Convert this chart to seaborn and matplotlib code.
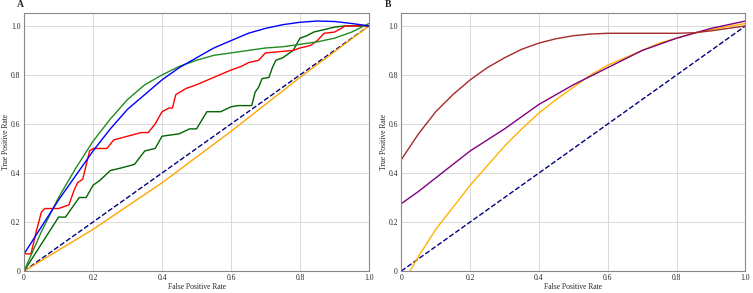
import matplotlib
matplotlib.use("Agg")
import matplotlib.pyplot as plt
import seaborn as sns
import numpy as np
import pandas as pd

# ---- panel A ----
blue_x = [0, 0.05, 0.1, 0.15, 0.2, 0.25, 0.3, 0.35, 0.4, 0.45, 0.5, 0.55, 0.6, 0.65, 0.7, 0.75, 0.8, 0.85, 0.9, 0.95, 1.0]
blue_y = [0.07, 0.18, 0.29, 0.39, 0.49, 0.58, 0.66, 0.72, 0.78, 0.83, 0.87, 0.91, 0.94, 0.97, 0.99, 1.005, 1.015, 1.02, 1.018, 1.01, 1.0]

green_x = [0, 0.05, 0.1, 0.15, 0.2, 0.25, 0.3, 0.35, 0.4, 0.45, 0.5, 0.55, 0.6, 0.65, 0.7, 0.75, 0.8, 0.85, 0.9, 0.95, 1.0]
green_y = [0, 0.16, 0.3, 0.42, 0.53, 0.62, 0.7, 0.76, 0.8, 0.835, 0.86, 0.88, 0.89, 0.9, 0.91, 0.915, 0.925, 0.935, 0.95, 0.975, 1.01]

red_x = [0, 0.02, 0.035, 0.05, 0.06, 0.1, 0.13, 0.145, 0.155, 0.17, 0.19, 0.2, 0.24, 0.26, 0.3, 0.34, 0.36, 0.38, 0.4, 0.42, 0.43, 0.44,
         0.47, 0.5, 0.55, 0.6, 0.63, 0.65, 0.68, 0.7, 0.78, 0.8, 0.83, 0.85, 0.87, 0.9, 0.92, 0.93, 1.0]
red_y = [0.07, 0.07, 0.16, 0.24, 0.255, 0.255, 0.27, 0.33, 0.36, 0.375, 0.49, 0.5, 0.5, 0.535, 0.55, 0.565, 0.565, 0.6, 0.65, 0.665, 0.665, 0.72,
         0.745, 0.76, 0.79, 0.82, 0.835, 0.85, 0.86, 0.89, 0.9, 0.91, 0.92, 0.94, 0.97, 0.975, 0.99, 1.0, 1.0]

dgreen_x = [0, 0.1, 0.12, 0.16, 0.18, 0.2, 0.22, 0.25, 0.28, 0.32, 0.35, 0.38, 0.4, 0.45, 0.48, 0.5, 0.53, 0.57, 0.6, 0.62, 0.66,
            0.67, 0.68, 0.69, 0.71, 0.72, 0.73, 0.75, 0.78, 0.8, 0.82, 0.84, 0.87, 0.9, 0.93, 1.0]
dgreen_y = [0, 0.22, 0.22, 0.3, 0.3, 0.35, 0.37, 0.41, 0.42, 0.435, 0.49, 0.5, 0.55, 0.56, 0.58, 0.58, 0.65, 0.65, 0.67, 0.675, 0.675,
            0.73, 0.75, 0.785, 0.79, 0.83, 0.86, 0.87, 0.9, 0.95, 0.96, 0.975, 0.985, 0.995, 1.0, 1.0]

orange_x = [0, 0.2, 0.4, 0.6, 0.8, 1.0]
orange_y = [0, 0.17, 0.36, 0.57, 0.79, 1.0]

diag_x = [0, 1]
diag_y = [0, 1]

# ---- panel B ----
b_x = [0, 0.05, 0.1, 0.15, 0.2, 0.25, 0.3, 0.35, 0.4, 0.45, 0.5, 0.55, 0.6, 0.65, 0.7, 0.75, 0.8, 0.85, 0.9, 0.95, 1.0]
brown_y = [0.455, 0.56, 0.65, 0.72, 0.78, 0.83, 0.87, 0.905, 0.93, 0.948, 0.96, 0.967, 0.97, 0.97, 0.97, 0.97, 0.97, 0.972, 0.98, 0.99, 1.0]
purple_y = [0.275, 0.325, 0.38, 0.435, 0.49, 0.535, 0.58, 0.63, 0.68, 0.72, 0.76, 0.795, 0.83, 0.865, 0.9, 0.925, 0.95, 0.97, 0.99, 1.005, 1.02]
gold_x = [0.025, 0.05, 0.1, 0.15, 0.2, 0.25, 0.3, 0.35, 0.4, 0.45, 0.5, 0.55, 0.6, 0.65, 0.7, 0.75, 0.8, 0.85, 0.9, 0.95, 1.0]
gold_y = [0, 0.06, 0.17, 0.26, 0.35, 0.43, 0.51, 0.58, 0.645, 0.7, 0.75, 0.8, 0.84, 0.87, 0.9, 0.93, 0.95, 0.97, 0.985, 0.998, 1.01]

ticks = [0, 0.2, 0.4, 0.6, 0.8, 1.0]
tick_labels = ["0", "0.2", "0.4", "0.6", "0.8", "1.0"]

sns.set_theme(style="whitegrid")
plt.rcParams['font.family'] = ['Liberation Serif', 'DejaVu Serif']

fig = plt.figure(figsize=(7.53, 2.93), dpi=100)
axA = fig.add_axes([0.032, 0.075, 0.458, 0.88])
axB = fig.add_axes([0.533, 0.075, 0.457, 0.88])


def draw(ax, x, y, color, lw=1.0, ls="-"):
    sns.lineplot(x=x, y=y, ax=ax, color=color, linewidth=lw, linestyle=ls,
                 sort=False, estimator=None)


draw(axA, diag_x, diag_y, "#000080", lw=1.0, ls="--")
draw(axA, orange_x, orange_y, "#FFA500")
draw(axA, dgreen_x, dgreen_y, "#006400")
draw(axA, red_x, red_y, "#FF0000")
draw(axA, green_x, green_y, "#228B22")
draw(axA, blue_x, blue_y, "#0000FF")

draw(axB, diag_x, diag_y, "#000080", lw=1.0, ls="--")
draw(axB, gold_x, gold_y, "#FFB300")
draw(axB, b_x, purple_y, "#800080")
draw(axB, b_x, brown_y, "#A52A2A")

for ax, letter, lx in [(axA, "A", -0.012), (axB, "B", -0.04)]:
    ax.set_xlim(0, 1)
    ax.set_ylim(0, 1.052)
    ax.set_xticks(ticks)
    ax.set_xticklabels(tick_labels)
    ax.set_yticks(ticks)
    ax.set_yticklabels(tick_labels)
    ax.tick_params(labelsize=5.5, pad=1, length=1.5, color="#888888", width=0.6)
    ax.set_xlabel("False Positive Rate", fontsize=5.5, labelpad=0.5)
    ax.set_ylabel("True Positive Rate", fontsize=5.5, labelpad=0.5)
    ax.grid(True, color="#d9d9d9", linewidth=0.7)
    for s in ax.spines.values():
        s.set_color("#888888")
        s.set_linewidth(0.8)
    ax.text(lx, 1.035, letter, transform=ax.transAxes, fontsize=7,
            fontweight="bold", ha="center", va="center")

plt.savefig("out.png", dpi=100)
